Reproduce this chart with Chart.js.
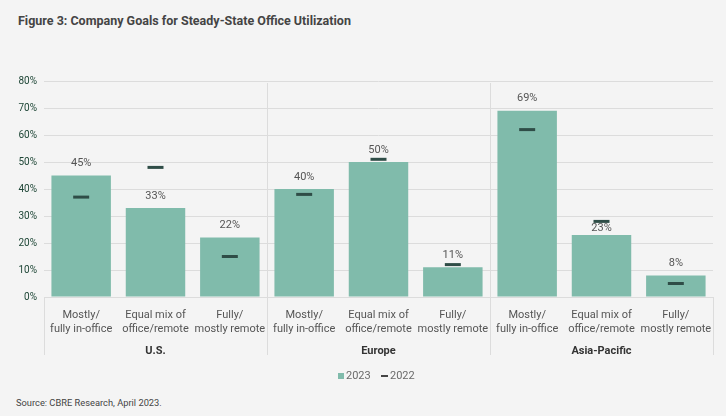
<!DOCTYPE html>
<html>
<head>
<meta charset="utf-8">
<script src="https://cdn.jsdelivr.net/npm/chart.js@4"></script>
<style>
  body { margin: 0; background: #f4f4f4; width: 726px; height: 416px; overflow: hidden; font-family: Roboto, sans-serif; }
  #judul { position: absolute; left: 18px; top: 13px; font-size: 12.5px; font-weight: bold; color: #444; }
  #sumber { position: absolute; left: 16px; top: 397px; font-size: 9.3px; color: #444; }
  #wadah { position: absolute; left: 0; top: 60px; width: 726px; height: 330px; }
</style>
</head>
<body>
<div id="judul">Figure 3: Company Goals for Steady-State Office Utilization</div>
<div id="wadah"><canvas id="grafik"></canvas></div>
<div id="sumber">Source: CBRE Research, April 2023.</div>
<script>
// Data
const kategori = [
  ['Mostly/', 'fully in-office'], ['Equal mix of', 'office/remote'], ['Fully/', 'mostly remote'],
  ['Mostly/', 'fully in-office'], ['Equal mix of', 'office/remote'], ['Fully/', 'mostly remote'],
  ['Mostly/', 'fully in-office'], ['Equal mix of', 'office/remote'], ['Fully/', 'mostly remote']
];
const wilayah = ['U.S.', 'Europe', 'Asia-Pacific'];
const nilai2023 = [45, 33, 22, 40, 50, 11, 69, 23, 8];
const nilai2022 = [37, 48, 15, 38, 51, 12, 62, 28, 5];
const tickY = [0, 10, 20, 30, 40, 50, 60, 70, 80];

const HIJAU = '#80bbab';
const GELAP = '#2f4d47';
const GARIS = '#dcdcdc';

// plugin: label persen, garis pemisah wilayah, label wilayah, legenda
const pluginTambahan = {
  id: 'tambahan',
  afterDatasetsDraw(chart) {
    const ctx = chart.ctx;
    const area = chart.chartArea;
    const metaBar = chart.getDatasetMeta(0);
    const metaTitik = chart.getDatasetMeta(1);

    ctx.save();
    ctx.font = '11px Roboto, sans-serif';
    ctx.fillStyle = '#555';
    ctx.textAlign = 'center';
    ctx.textBaseline = 'middle';
    metaBar.data.forEach((bar, i) => {
      let y = bar.y - 12;
      const yTitik = metaTitik.data[i].y;
      // kalau nabrak penanda 2022, geser ke bawah penanda
      if (Math.abs(yTitik - y) < 6) y = yTitik + 7;
      ctx.fillText(nilai2023[i] + '%', bar.x, y);
    });

    // garis vertikal
    const lebar = (area.right - area.left) / kategori.length;
    ctx.strokeStyle = GARIS;
    ctx.lineWidth = 1;
    const bawah = area.bottom + 58;
    [0, 3, 6, 9].forEach(k => {
      const xx = Math.round(area.left + k * lebar) + 0.5;
      const atas = (k === 0 || k === 9) ? area.bottom : area.top + 2;
      ctx.beginPath();
      ctx.moveTo(xx, atas);
      ctx.lineTo(xx, bawah);
      ctx.stroke();
    });

    // label wilayah
    ctx.font = 'bold 11px Roboto, sans-serif';
    ctx.fillStyle = '#333';
    wilayah.forEach((w, j) => {
      const cx = area.left + (j * 3 + 1.5) * lebar;
      ctx.fillText(w, cx, area.bottom + 54);
    });

    // legenda
    const yLeg = area.bottom + 79;
    ctx.font = '11px Roboto, sans-serif';
    ctx.textAlign = 'left';
    let x = 338;
    ctx.fillStyle = HIJAU;
    ctx.fillRect(x, yLeg - 3, 6, 6);
    ctx.fillStyle = '#6a6a6a';
    ctx.fillText(chart.data.datasets[0].label, x + 8, yLeg + 0.5);
    x = 381;
    ctx.fillStyle = '#444';
    ctx.fillRect(x, yLeg - 1, 7, 2);
    ctx.fillStyle = '#6a6a6a';
    ctx.fillText(chart.data.datasets[1].label, x + 9, yLeg + 0.5);
    ctx.restore();
  }
};

const ctx = document.getElementById('grafik').getContext('2d');
const myChart = new Chart(ctx, {
  type: 'bar',
  data: {
    labels: kategori,
    datasets: [{
      label: '2023',
      data: nilai2023,
      backgroundColor: HIJAU,
      barPercentage: 0.8,
      categoryPercentage: 1,
      order: 2
    }, {
      type: 'line',
      label: '2022',
      data: nilai2022,
      showLine: false,
      pointStyle: 'line',
      pointRadius: 8,
      pointHoverRadius: 8,
      borderColor: GELAP,
      backgroundColor: GELAP,
      pointBorderWidth: 3,
      borderWidth: 3,
      order: 1
    }]
  },
  options: {
    responsive: true,
    maintainAspectRatio: false,
    animation: false,
    layout: { padding: { top: 21, right: 13, left: 0, bottom: 32 } },
    plugins: {
      tooltip: { enabled: false },
      legend: { display: false }
    },
    scales: {
      x: {
        grid: { display: false },
        border: { display: true, color: GARIS },
        ticks: {
          color: '#555',
          font: { family: 'Roboto, sans-serif', size: 11 },
          maxRotation: 0,
          autoSkip: false,
          padding: 4
        },
        afterFit(scale) { scale.height = 61; }
      },
      y: {
        min: 0,
        max: 80,
        afterBuildTicks(scale) { scale.ticks = tickY.map(v => ({ value: v })); },
        grid: { color: GARIS, drawTicks: false },
        border: { display: false },
        ticks: {
          color: '#1e4636',
          font: { family: 'Roboto, sans-serif', size: 10 },
          padding: 7,
          callback: v => v + '%'
        },
        afterFit(scale) { scale.width = 44; }
      }
    }
  },
  plugins: [pluginTambahan]
});
</script>
</body>
</html>
